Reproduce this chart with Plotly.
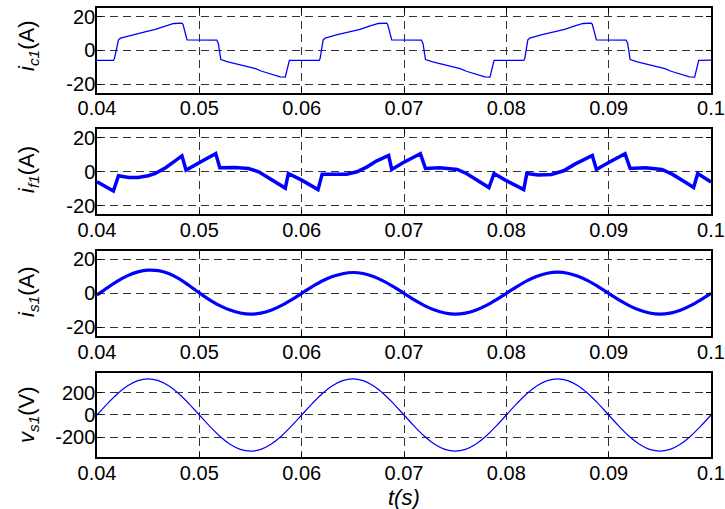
import plotly.graph_objects as go

# ---------------- data ----------------
x_tick_vals = [0.04, 0.05, 0.06, 0.07, 0.08, 0.09, 0.1]
x_tick_text = ["0.04", "0.05", "0.06", "0.07", "0.08", "0.09", "0.1"]
i_tick_vals = [-20, 0, 20]
i_tick_text = ["-20", "0", "20"]
v_tick_vals = [-200, 0, 200]
v_tick_text = ["-200", "0", "200"]

# i_c1 (capacitor current)
t_ic1 = [0.0400, 0.0416, 0.0417, 0.0421, 0.0423, 0.0434, 0.0447, 0.0457, 0.0467, 0.0475, 0.0483, 0.0484, 0.0488,
         0.0517, 0.05185, 0.0521, 0.0528, 0.0541, 0.0555, 0.0561, 0.0571, 0.0579, 0.0584, 0.0585, 0.0588,
         0.0617, 0.0618, 0.0621, 0.0623, 0.0634, 0.0647, 0.0657, 0.0667, 0.0675, 0.0683, 0.0684, 0.0688,
         0.0717, 0.07185, 0.0721, 0.0728, 0.0741, 0.0755, 0.0761, 0.0771, 0.0779, 0.0784, 0.0785, 0.0788,
         0.0817, 0.0818, 0.0821, 0.0823, 0.0834, 0.0847, 0.0857, 0.0867, 0.0875, 0.0883, 0.0884, 0.0888,
         0.0917, 0.09185, 0.0921, 0.0928, 0.0941, 0.0955, 0.0961, 0.0971, 0.0979, 0.0984, 0.0985, 0.0988,
         0.1000]
v_ic1 = [-5.9, -5.9, -4.8, 6.3, 7.3, 9.2, 11.1, 12.5, 14.6, 16.0, 16.2, 15.5, 6.3,
         6.2, 4.3, -5.4, -6.8, -8.8, -10.7, -12.3, -14.2, -15.6, -15.8, -13.0, -5.9,
         -5.9, -4.8, 6.3, 7.3, 9.2, 11.1, 12.5, 14.6, 16.0, 16.2, 15.5, 6.3,
         6.2, 4.3, -5.4, -6.8, -8.8, -10.7, -12.3, -14.2, -15.6, -15.8, -13.0, -5.9,
         -5.9, -4.8, 6.3, 7.3, 9.2, 11.1, 12.5, 14.6, 16.0, 16.2, 15.5, 6.3,
         6.2, 4.3, -5.4, -6.8, -8.8, -10.7, -12.3, -14.2, -15.6, -15.8, -13.0, -5.9,
         -5.7]

# i_f1 (filter current)
t_if1 = [0.0400, 0.0416, 0.0421, 0.0431, 0.0440, 0.0450, 0.0457, 0.0467, 0.0476, 0.0483, 0.0487,
         0.0496, 0.0506, 0.0516, 0.0520, 0.0535, 0.0548, 0.0558, 0.0568, 0.0577, 0.0584, 0.0587,
         0.0600, 0.0616, 0.0620, 0.0631, 0.0644, 0.0654, 0.0664, 0.0673, 0.0685, 0.0688,
         0.0699, 0.0716, 0.0721, 0.0735, 0.0752, 0.0761, 0.0774, 0.0783, 0.0788,
         0.0799, 0.0817, 0.0820, 0.0831, 0.0844, 0.0856, 0.0867, 0.0884, 0.0888,
         0.0900, 0.0916, 0.0921, 0.0936, 0.0952, 0.0962, 0.0975, 0.0983, 0.0987,
         0.1000]
v_if1 = [-5.8, -11.3, -2.3, -3.3, -3.3, -2.3, -1.0, 2.4, 6.3, 9.4, 1.0,
         4.3, 7.4, 10.7, 2.4, 2.5, 1.9, 0.0, -3.5, -6.8, -9.6, -1.0,
         -4.9, -10.5, -1.4, -1.5, -1.4, 0.0, 2.9, 6.3, 9.6, 1.4,
         5.3, 10.6, 1.9, 2.3, 1.4, -1.0, -5.8, -9.3, -1.0,
         -4.9, -10.5, -1.0, -1.9, -1.6, 0.6, 4.5, 9.6, 1.4,
         5.5, 10.6, 1.9, 2.3, 1.4, -1.4, -6.2, -9.3, -1.0,
         -6.0]

# i_s1 (source current), sampled every 1 ms
t_is1 = [0.040, 0.041, 0.042, 0.043, 0.044, 0.045, 0.046, 0.047, 0.048, 0.049,
         0.050, 0.051, 0.052, 0.053, 0.054, 0.055, 0.056, 0.057, 0.058, 0.059,
         0.060, 0.061, 0.062, 0.063, 0.064, 0.065, 0.066, 0.067, 0.068, 0.069,
         0.070, 0.071, 0.072, 0.073, 0.074, 0.075, 0.076, 0.077, 0.078, 0.079,
         0.080, 0.081, 0.082, 0.083, 0.084, 0.085, 0.086, 0.087, 0.088, 0.089,
         0.090, 0.091, 0.092, 0.093, 0.094, 0.095, 0.096, 0.097, 0.098, 0.099,
         0.100]
v_is1 = [-1.0, 3.2, 7.2, 10.4, 12.6, 13.6, 13.3, 11.6, 8.6, 4.6,
         0.3, -3.8, -7.2, -9.8, -11.5, -12.2, -11.6, -9.9, -7.2, -3.8,
         0.0, 3.8, 7.2, 9.8, 11.5, 12.2, 11.6, 9.9, 7.2, 3.8,
         0.0, -3.8, -7.2, -9.8, -11.5, -12.2, -11.6, -9.9, -7.2, -3.8,
         0.0, 3.8, 7.3, 10.0, 11.8, 12.4, 11.8, 10.0, 7.3, 3.8,
         0.0, -3.8, -7.2, -9.8, -11.5, -12.2, -11.6, -9.9, -7.2, -3.8,
         0.0]

# v_s1 (source voltage), sampled every 1 ms
t_vs1 = t_is1
v_vs1 = [0, 100, 191, 263, 309, 325, 309, 263, 191, 100,
         0, -100, -191, -263, -309, -325, -309, -263, -191, -100,
         0, 100, 191, 263, 309, 325, 309, 263, 191, 100,
         0, -100, -191, -263, -309, -325, -309, -263, -191, -100,
         0, 100, 191, 263, 309, 325, 309, 263, 191, 100,
         0, -100, -191, -263, -309, -325, -309, -263, -191, -100,
         0]

# ---------------- figure ----------------
BLUE = "#0000FF"
FONT = "Arial, Liberation Sans, Helvetica, sans-serif"

fig = go.Figure()
fig.add_trace(go.Scatter(x=t_ic1, y=v_ic1, mode="lines", line=dict(color=BLUE, width=1.3),
                         xaxis="x", yaxis="y"))
fig.add_trace(go.Scatter(x=t_if1, y=v_if1, mode="lines", line=dict(color=BLUE, width=3.5),
                         xaxis="x2", yaxis="y2"))
fig.add_trace(go.Scatter(x=t_is1, y=v_is1, mode="lines", line=dict(color=BLUE, width=3.2, shape="spline"),
                         xaxis="x3", yaxis="y3"))
fig.add_trace(go.Scatter(x=t_vs1, y=v_vs1, mode="lines", line=dict(color=BLUE, width=1.2, shape="spline"),
                         xaxis="x4", yaxis="y4"))

xdom = [0.1338, 0.9807]
ydoms = [[0.8179, 0.9837], [0.5790, 0.7460], [0.3399, 0.5075], [0.1016, 0.2678]]

common_axis = dict(
    showline=True, linecolor="black", linewidth=1.5, mirror="ticks",
    ticks="inside", ticklen=5, tickwidth=1, tickcolor="black",
    showgrid=True, gridcolor="#333333", gridwidth=1, griddash="8px,5px",
    zeroline=False, tickfont=dict(family=FONT, size=20, color="black"),
)

layout = dict(
    width=725, height=509, showlegend=False,
    paper_bgcolor="white", plot_bgcolor="white",
    margin=dict(l=0, r=0, t=0, b=0),
)
for k in range(4):
    sx = "" if k == 0 else str(k + 1)
    layout["xaxis" + sx] = dict(
        common_axis, domain=xdom, range=[0.04, 0.1],
        tickmode="array", tickvals=x_tick_vals, ticktext=x_tick_text,
        anchor="y" + sx, automargin=False, ticklabelstandoff=-3,
    )
    if k < 3:
        yv, yt, yr = i_tick_vals, i_tick_text, [-25, 25]
    else:
        yv, yt, yr = v_tick_vals, v_tick_text, [-380, 380]
    layout["yaxis" + sx] = dict(
        common_axis, domain=ydoms[k], range=yr,
        tickmode="array", tickvals=yv, ticktext=yt,
        anchor="x" + sx, automargin=False, ticklabelstandoff=-4,
    )

fig.update_layout(**layout)

titles = ["<i>i</i><sub><i>c1</i></sub>(A)", "<i>i</i><sub><i>f1</i></sub>(A)",
          "<i>i</i><sub><i>s1</i></sub>(A)", "<i>v</i><sub><i>s1</i></sub>(V)"]
title_y_px = [46, 170, 292, 415]
for k, txt in enumerate(titles):
    fig.add_annotation(text=txt, xref="paper", yref="paper", x=28 / 725,
                       y=1 - title_y_px[k] / 509, textangle=-90,
                       showarrow=False, xanchor="center", yanchor="middle",
                       font=dict(family=FONT, size=22, color="black"))

fig.add_annotation(text="<i>t(s)</i>", xref="paper", yref="paper", x=404 / 725, y=1 - 497 / 509,
                   showarrow=False, xanchor="center", yanchor="middle",
                   font=dict(family=FONT, size=22, color="black"))

fig.write_html("out.html", config={"displayModeBar": False},
               post_script="document.body.style.margin='0';document.body.style.overflow='hidden';")
